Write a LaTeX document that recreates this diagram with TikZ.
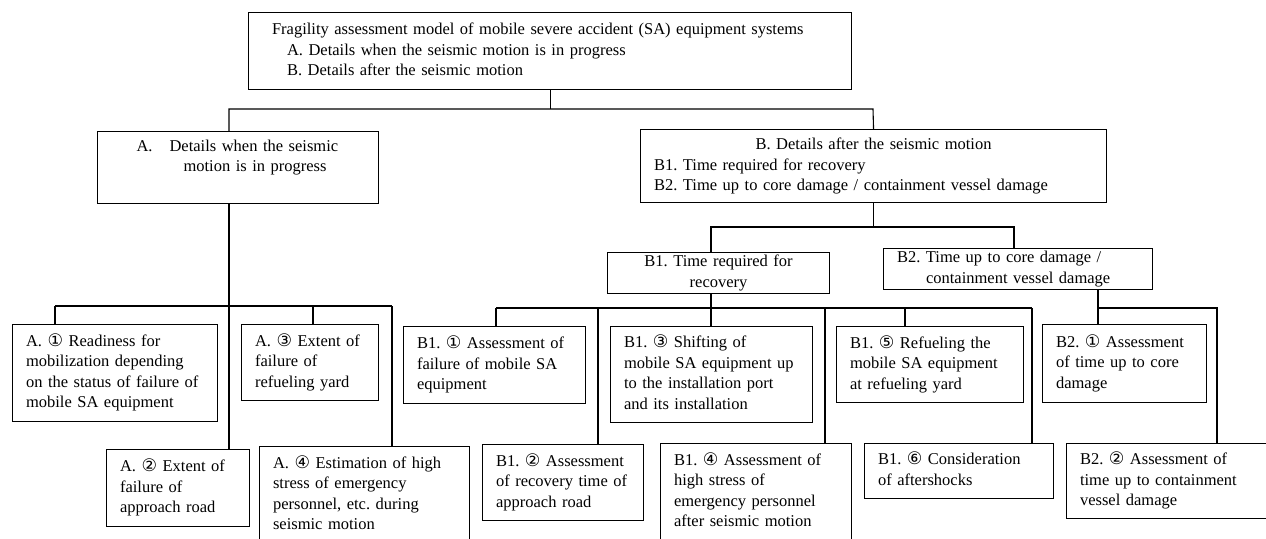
\documentclass[tikz,border=0pt]{standalone}
\usepackage{fontspec}
\setmainfont{Liberation Serif}
\newfontfamily\circfont{DejaVu Sans}[Scale=1.05]
\newcommand{\cn}[1]{{\circfont #1}}
\frenchspacing
\tikzset{
	box/.style={draw, line width=1.1pt, anchor=north west, align=left,
		inner xsep=13.5pt, inner ysep=0pt, font=\fontsize{16.5}{20.5}\selectfont,
		execute at begin node=\strut, execute at end node=\strut},
	wire/.style={line width=1.1pt}
}

\begin{document}
\begin{tikzpicture}[x=1pt, y=-1pt]
	\useasboundingbox (0,0) rectangle (1266,538);

	\node[box, text width=576pt, minimum height=77pt] (top) at (248,12) {\hspace*{10pt}Fragility assessment model of mobile severe accident (SA) equipment systems\\ \hspace*{25pt}A. Details when the seismic motion is in progress\\ \hspace*{25pt}B. Details after the seismic motion};

	\node[box, text width=254pt, minimum height=72pt] (a) at (97,131) {\hspace*{25.5pt}A.\hspace{17pt}Details when the seismic\\ \hspace*{72.5pt}motion is in progress\\ \mbox{}};
	\node[box, text width=439pt, minimum height=73pt] (b) at (640,129) {\makebox[\linewidth]{B. Details after the seismic motion}\\ B1. Time required for recovery\\ B2. Time up to core damage / containment vessel damage};

	\node[box, align=center, text width=195pt, minimum height=41pt] (b1) at (607,252) {B1. Time required for\\ recovery};
	\node[box, text width=242pt, minimum height=41pt] (b2) at (883,248) {B2. Time up to core damage /\\ \hspace*{29pt}containment vessel damage};

	% during the seismic motion
	\node[box, text width=178pt, minimum height=97pt] (a1) at (12,324) {A. \cn{①} Readiness for\\ mobilization depending\\ on the status of failure of\\ mobile SA equipment};
	\node[box, text width=116pt, minimum height=77pt] (a2) at (106,449) {A. \cn{②} Extent of\\ failure of\\ approach road};
	\node[box, text width=110pt, minimum height=76pt] (a3) at (241,324) {A. \cn{③} Extent of\\ failure of\\ refueling yard};
	\node[box, text width=183pt, minimum height=97pt] (a4) at (259,446) {A. \cn{④} Estimation of high\\ stress of emergency\\ personnel, etc. during\\ seismic motion};

	% after the seismic motion
	\node[box, text width=155pt, minimum height=77pt] (b11) at (403,326) {B1. \cn{①} Assessment of\\ failure of mobile SA\\ equipment};
	\node[box, text width=134pt, minimum height=76pt] (b12) at (482,444) {B1. \cn{②} Assessment\\ of recovery time of\\ approach road};
	\node[box, text width=175pt, minimum height=96pt] (b13) at (610,326) {B1. \cn{③} Shifting of\\ mobile SA equipment up\\ to the installation port\\ and its installation};
	\node[box, text width=164pt, minimum height=97pt] (b14) at (660,443) {B1. \cn{④} Assessment of\\ high stress of\\ emergency personnel\\ after seismic motion};
	\node[box, text width=160pt, minimum height=76pt] (b15) at (836,326) {B1. \cn{⑤} Refueling the\\ mobile SA equipment\\ at refueling yard};
	\node[box, text width=162pt, minimum height=55pt] (b16) at (864,443) {B1. \cn{⑥} Consideration\\ of aftershocks};
	\node[box, text width=137pt, minimum height=78pt] (b21) at (1042,324) {B2. \cn{①} Assessment\\ of time up to core\\ damage};
	\node[box, text width=174pt, minimum height=75pt] (b22) at (1066,443) {B2. \cn{②} Assessment of\\ time up to containment\\ vessel damage};

	\coordinate (ja) at (229,109);
	\coordinate (jb) at (873,109);
	\coordinate (ja1) at (55,306);
	\coordinate (ja3) at (313,306);
	\coordinate (ja4) at (392,306);
	\coordinate (jb1) at (711,227);
	\coordinate (jb2) at (1014,227);
	\foreach \i / \x in {1/496, 2/598, 4/825, 5/905, 6/1032}
	{
		\coordinate (jb1\i) at (\x,308);
	};
	\coordinate (jb21) at (1098,308);
	\coordinate (jb22) at (1217,308);

	\draw[wire] (top.south) -- (top.south |- ja);
	\draw[wire] (a.north -| ja) -- (ja) -- (jb) -- (b.north);
	\draw[wire] (a.south -| ja) -- (a2.north -| ja);
	\draw[wire] (ja1) -- (ja4);
	\foreach \i in {1,3,4}
	{
		\draw[wire] (ja\i) -- (ja\i |- a\i.north);
	};

	\draw[wire] (b.south) -- (b.south |- jb1);
	\draw[wire] (b1.north -| jb1) -- (jb1) -- (jb2) -- (b2.north -| jb2);
	\draw[wire] (b1.south -| jb1) -- (b13.north -| jb1);
	\draw[wire] (jb11) -- (jb16);
	\foreach \i in {1,2,4,5,6}
	{
		\draw[wire] (jb1\i) -- (jb1\i |- b1\i.north);
	};
	\draw[wire] (b2.south -| jb21) -- (b21.north -| jb21);
	\draw[wire] (jb21) -- (jb22) -- (jb22 |- b22.north);
\end{tikzpicture}
\end{document}
